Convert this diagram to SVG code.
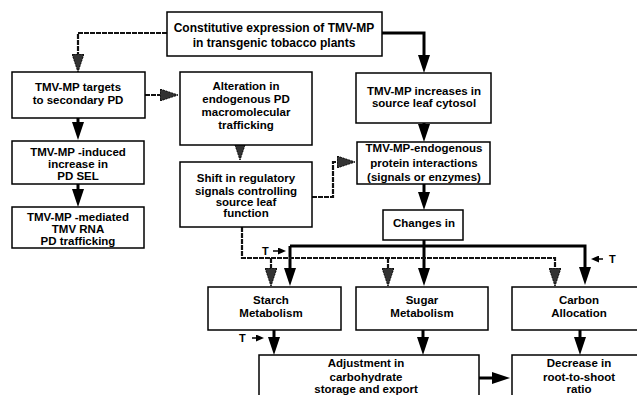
<svg xmlns="http://www.w3.org/2000/svg" width="637" height="395" viewBox="0 0 637 395">
<style>
  .box { fill: #fff; stroke: #000; stroke-width: 1.5; }
  .t { font-family: "Liberation Sans", Arial, sans-serif; font-weight: bold; font-size: 11.5px; fill: #000; text-anchor: middle; }
  .tl { font-family: "Liberation Sans", Arial, sans-serif; font-weight: bold; font-size: 11px; fill: #000; }
  .solid { fill: none; stroke: #000; stroke-width: 3; marker-end: url(#ah); }
  .dash { fill: none; stroke: #111; stroke-width: 2.2; stroke-dasharray: 5 1; marker-end: url(#ahh); }
  .small { fill: none; stroke: #000; stroke-width: 1.5; marker-end: url(#ahs); }
</style>
<defs>
  <marker id="ah" viewBox="0 0 18 12" refX="10" refY="6" markerWidth="18" markerHeight="12" markerUnits="userSpaceOnUse" orient="auto">
    <path d="M0,0 L18,6 L0,12 Z" fill="#000"/>
  </marker>
  <marker id="ahh" viewBox="0 0 18 12" refX="10" refY="6" markerWidth="18" markerHeight="12" markerUnits="userSpaceOnUse" orient="auto">
    <path d="M0,0 L18,6 L0,12 Z" fill="#333" stroke="#000" stroke-width="1" stroke-dasharray="2 1"/>
  </marker>
  <marker id="ahs" viewBox="0 0 8 7" refX="2" refY="3.5" markerWidth="8" markerHeight="7" markerUnits="userSpaceOnUse" orient="auto">
    <path d="M0,0 L8,3.5 L0,7 Z" fill="#000"/>
  </marker>
</defs>

<g id="connectors">
  <!-- solid -->
  <path class="solid" d="M382,33 H424 V65"/>
  <path class="solid" d="M78,118 V132"/>
  <path class="solid" d="M78,184 V199"/>
  <path class="solid" d="M424,123 V134"/>
  <path class="solid" d="M424,184 V202"/>
  <path class="solid" d="M424,240 V278"/>
  <path class="solid" d="M290,246 V278"/>
  <path class="solid" d="M290,246 H585 V277"/>
  <path class="solid" d="M274,330 V347"/>
  <path class="solid" d="M423,330 V347"/>
  <path class="solid" d="M580,330 V347"/>
  <path class="solid" d="M479,378 H502"/>
  <!-- dashed -->
  <path class="dash" d="M167,33 H78 V64"/>
  <path class="dash" d="M145,95 H170"/>
  <path class="dash" d="M240,145 V152"/>
  <path class="dash" d="M312,197 H333 V162 H347"/>
  <path class="dash" d="M242,227 V258 H555 V278"/>
  <path class="dash" d="M271,258 V278"/>
  <path class="dash" d="M388,258 V278"/>
  <!-- T arrows -->
  <path class="small" d="M273,251 H280"/>
  <text class="tl" x="262" y="255">T</text>
  <path class="small" d="M603,259 H597"/>
  <text class="tl" x="609" y="263">T</text>
  <path class="small" d="M252,338 H258"/>
  <text class="tl" x="239" y="342">T</text>
</g>

<g id="n_top">
  <rect class="box" x="167" y="12" width="215" height="44"/>
  <text class="t" x="274" y="32" style="font-size:12px">Constitutive expression of TMV-MP</text>
  <text class="t" x="274" y="47" style="font-size:12px">in transgenic tobacco plants</text>
</g>
<g id="n_targets">
  <rect class="box" x="12" y="72" width="133" height="46"/>
  <text class="t" x="78" y="91">TMV-MP targets</text>
  <text class="t" x="78" y="104">to secondary PD</text>
</g>
<g id="n_induced">
  <rect class="box" x="12" y="141" width="132" height="43"/>
  <text class="t" x="78" y="156">TMV-MP -induced</text>
  <text class="t" x="78" y="168">increase in</text>
  <text class="t" x="78" y="180">PD SEL</text>
</g>
<g id="n_mediated">
  <rect class="box" x="12" y="207" width="132" height="41"/>
  <text class="t" x="78" y="221">TMV-MP -mediated</text>
  <text class="t" x="78" y="233">TMV RNA</text>
  <text class="t" x="78" y="245">PD trafficking</text>
</g>
<g id="n_alteration">
  <rect class="box" x="180" y="72" width="132" height="73"/>
  <text class="t" x="246" y="90">Alteration in</text>
  <text class="t" x="246" y="103">endogenous PD</text>
  <text class="t" x="246" y="116">macromolecular</text>
  <text class="t" x="246" y="129">trafficking</text>
</g>
<g id="n_shift">
  <rect class="box" x="180" y="162" width="132" height="65"/>
  <text class="t" x="246" y="182">Shift in regulatory</text>
  <text class="t" x="246" y="195">signals controlling</text>
  <text class="t" x="246" y="206">source leaf</text>
  <text class="t" x="246" y="217">function</text>
</g>
<g id="n_increases">
  <rect class="box" x="356" y="73" width="135" height="50"/>
  <text class="t" x="424" y="95">TMV-MP  increases in</text>
  <text class="t" x="424" y="107">source leaf cytosol</text>
</g>
<g id="n_endogenous">
  <rect class="box" x="357" y="142" width="133" height="42"/>
  <text class="t" x="424" y="152">TMV-MP-endogenous</text>
  <text class="t" x="424" y="167">protein interactions</text>
  <text class="t" x="424" y="181">(signals or enzymes)</text>
</g>
<g id="n_changes">
  <rect class="box" x="383" y="210" width="80" height="30"/>
  <text class="t" x="424" y="227">Changes in</text>
</g>
<g id="n_starch">
  <rect class="box" x="208" y="287" width="133" height="43"/>
  <text class="t" x="271" y="304">Starch</text>
  <text class="t" x="271" y="317">Metabolism</text>
</g>
<g id="n_sugar">
  <rect class="box" x="356" y="287" width="132" height="43"/>
  <text class="t" x="422" y="304">Sugar</text>
  <text class="t" x="422" y="317">Metabolism</text>
</g>
<g id="n_carbon">
  <rect class="box" x="512" y="287" width="135" height="43"/>
  <text class="t" x="579" y="304">Carbon</text>
  <text class="t" x="579" y="317">Allocation</text>
</g>
<g id="n_adjustment">
  <rect class="box" x="259" y="355" width="220" height="50"/>
  <text class="t" x="366" y="367">Adjustment in</text>
  <text class="t" x="366" y="381">carbohydrate</text>
  <text class="t" x="366" y="393">storage and export</text>
</g>
<g id="n_decrease">
  <rect class="box" x="512" y="355" width="135" height="50"/>
  <text class="t" x="579" y="367">Decrease in</text>
  <text class="t" x="579" y="381">root-to-shoot</text>
  <text class="t" x="579" y="393">ratio</text>
</g>
</svg>
